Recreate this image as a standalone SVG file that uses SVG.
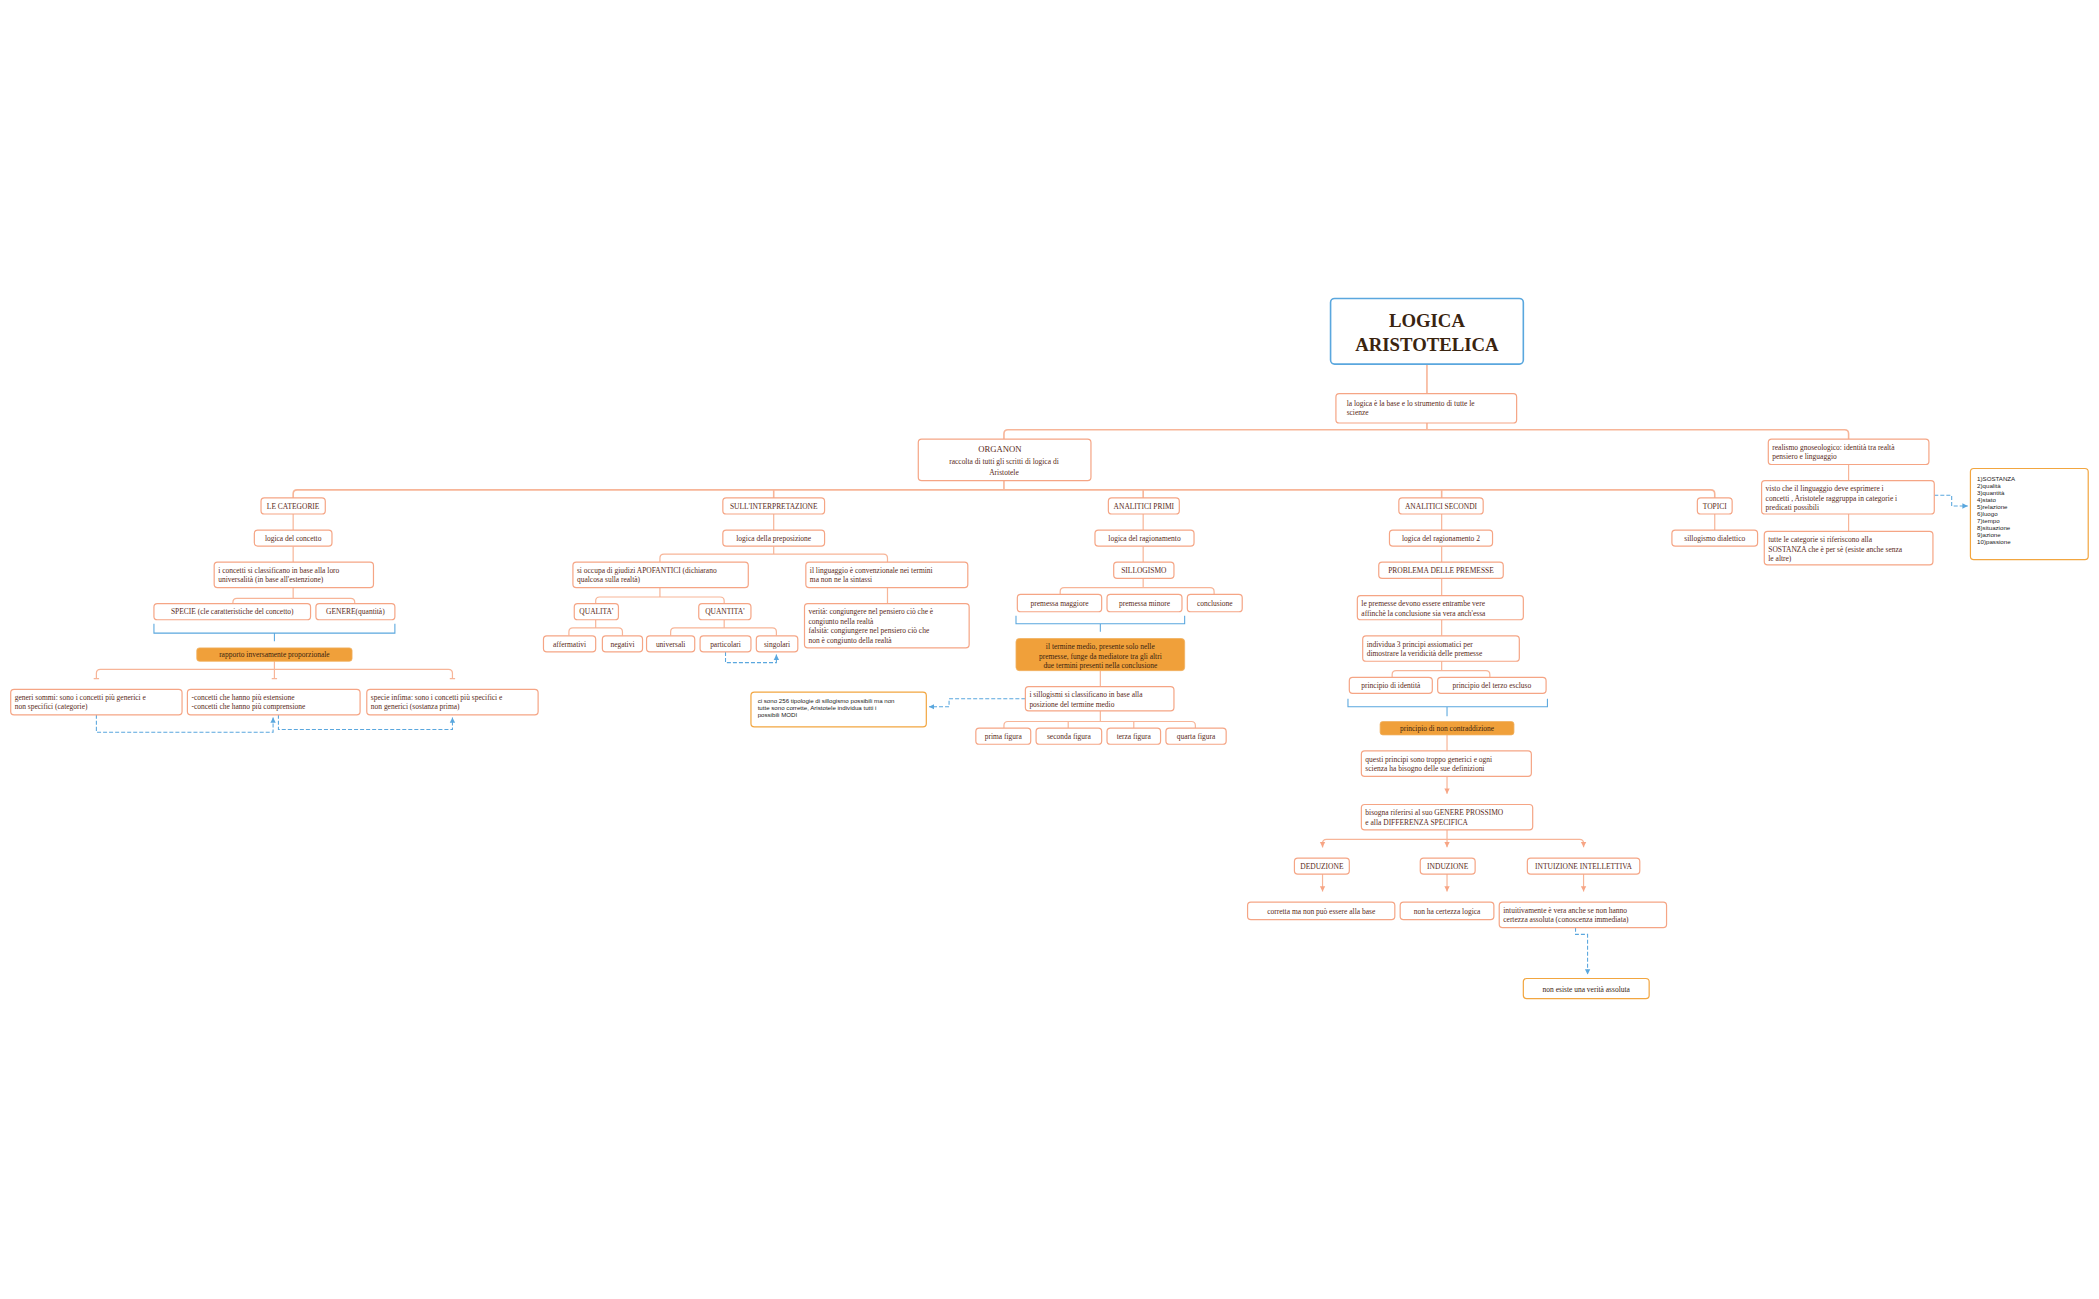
<svg xmlns="http://www.w3.org/2000/svg" width="2099" height="1299" viewBox="0 0 2099 1299">
<defs>
<style>
.n{fill:#fff;stroke:#f5a585;stroke-width:0.9}
.o{fill:#f0a03a;stroke:#f0b060;stroke-width:0.6}
.y{fill:#fff;stroke:#f2a640;stroke-width:0.9}
.t{fill:#fff;stroke:#5aa7de;stroke-width:1.2}
text{font-family:"Liberation Serif","DejaVu Serif",serif;font-size:5.6px;fill:#5a2a18}
.c{text-anchor:middle}
.s{font-family:"Liberation Sans",Arial,sans-serif;font-size:4.6px;fill:#222}
.k{fill:#3a2410}
.ln{fill:none;stroke:#f7b598;stroke-width:0.9}
.bl{fill:none;stroke:#5aa7de;stroke-width:0.8}
.ds{fill:none;stroke:#5aa7de;stroke-width:0.8;stroke-dasharray:3 1.5}
</style>
<marker id="ab" markerWidth="5" markerHeight="5" refX="4" refY="2.5" orient="auto" markerUnits="userSpaceOnUse"><path d="M0,0.5 L4,2.5 L0,4.5 Z" fill="#5aa7de"/></marker>
<marker id="ao" markerWidth="5" markerHeight="5" refX="4" refY="2.5" orient="auto" markerUnits="userSpaceOnUse"><path d="M0,0.5 L4,2.5 L0,4.5 Z" fill="#f7a585"/></marker>
</defs>
<rect width="2099" height="1299" fill="#fff"/>
<g transform="scale(1.3386)">
<g id="connectors">
<path class="ln" d="M1066,272V321M750,328V324Q750,321 753,321H1378Q1381,321 1381,324V328" style="stroke-width:1.2"/>
<path class="ln" d="M1381,347V359M1381,384V397"/>
<path class="ds" d="M1445,370H1458V378H1470" marker-end="url(#ab)"/>
<path class="ln" d="M750,359V366M219,372V369Q219,366 222,366H1278Q1281,366 1281,369V372M578,366V372M854,366V372M1077,366V372" style="stroke-width:1.2"/>
<!-- left -->
<path class="ln" d="M219,384V396M219,408V420M219,439V447M174,451V450Q174,447 177,447H262Q265,447 265,450V451"/>
<path class="bl" d="M115,466V473H295V466M205,473V479"/>
<path class="ln" d="M205,494V507M72,507V503Q72,500 75,500H335Q338,500 338,503V507"/>
<path class="ln" d="M70,507H74M203,507H207M336,507H340"/>
<path class="ds" d="M72,534V547H204V536" marker-end="url(#ab)"/>
<path class="ds" d="M208,534V545H338V536" marker-end="url(#ab)"/>
<!-- middle -->
<path class="ln" d="M578,384V396M578,408V414M493,420V417Q493,414 496,414H660Q663,414 663,417V420M663,439V451"/>
<path class="ln" d="M493,439V446M445,451V449Q445,446 448,446H538Q541,446 541,449V451"/>
<path class="ln" d="M445,463V469M425,475V472Q425,469 428,469H462Q465,469 465,472V475"/>
<path class="ln" d="M541,463V469M501,475V472Q501,469 504,469H577Q580,469 580,472V475"/>
<path class="ds" d="M542,487V495H580V489" marker-end="url(#ab)"/>
<!-- analitici primi -->
<path class="ln" d="M854,384V396M854,408V420M854,432V439M792,444V442Q792,439 795,439H904Q907,439 907,442V444"/>
<path class="bl" d="M759,460V466H885V460M822,466V472"/>
<path class="ln" d="M822,501V513M822,531V539M750,544V542Q750,539 753,539H890Q893,539 893,542V544M798,539V544M847,539V544"/>
<path class="ds" d="M766,522H709V528H694" marker-end="url(#ab)"/>
<!-- analitici secondi -->
<path class="ln" d="M1077,384V396M1077,408V420M1077,432V445M1077,463V475M1077,494V501M1040,506V504Q1040,501 1043,501H1110Q1113,501 1113,504V506"/>
<path class="bl" d="M1007,522V528H1156V522M1081,528V535"/>
<path class="ln" d="M1081,549V561M1081,580V593" marker-end="url(#ao)"/>
<path class="ln" d="M1081,620V633" marker-end="url(#ao)"/>
<path class="ln" d="M988,633V630Q988,627 991,627H1180Q1183,627 1183,630V633" marker-end="url(#ao)"/>
<path class="ln" d="M988,630V633" marker-end="url(#ao)"/>
<path class="ln" d="M988,653V666" marker-end="url(#ao)"/>
<path class="ln" d="M1081,653V666" marker-end="url(#ao)"/>
<path class="ln" d="M1183,653V666" marker-end="url(#ao)"/>
<path class="ds" d="M1177,693V698H1186V728" marker-end="url(#ab)"/>
<path class="ln" d="M1281,384V396"/>
</g>
<g id="title"><rect class="t" x="994" y="223" width="144" height="49" rx="3"/><text class="c k" x="1066" y="244" style="font-size:14px;font-weight:bold">LOGICA</text><text class="c k" x="1066" y="262" style="font-size:14px;font-weight:bold">ARISTOTELICA</text></g>
<g id="base"><rect class="n" x="998" y="294" width="135" height="22" rx="2.5"/><text x="1006" y="303">la logica è la base e lo strumento di tutte le</text><text x="1006" y="310">scienze</text></g>
<g id="organon"><rect class="n" x="686" y="328" width="129" height="31" rx="2.5"/><text class="c" x="747" y="338" style="font-size:6.5px">ORGANON</text><text class="c" x="750" y="347">raccolta di tutti gli scritti di logica di</text><text class="c" x="750" y="355">Aristotele</text></g>
<g id="realismo"><rect class="n" x="1321" y="328" width="120" height="19" rx="2.5"/><text x="1324" y="336">realismo gnoseologico: identità tra realtà</text><text x="1324" y="343">pensiero e linguaggio</text></g>
<g id="visto"><rect class="n" x="1316" y="359" width="129" height="25" rx="2.5"/><text x="1319" y="367">visto che il linguaggio deve esprimere i</text><text x="1319" y="374">concetti , Aristotele raggruppa in categorie i</text><text x="1319" y="381">predicati possibili</text></g>
<g id="tutte"><rect class="n" x="1318" y="397" width="126" height="25" rx="2.5"/><text x="1321" y="405">tutte le categorie si riferiscono alla</text><text x="1321" y="412">SOSTANZA che è per sè (esiste anche senza</text><text x="1321" y="419">le altre)</text></g>
<g id="lista"><rect class="y" x="1472" y="350" width="88" height="68" rx="2.5"/>
<text class="s" x="1477" y="359">1)SOSTANZA</text><text class="s" x="1477" y="364.3">2)qualità</text><text class="s" x="1477" y="369.6">3)quantità</text><text class="s" x="1477" y="374.9">4)stato</text><text class="s" x="1477" y="380.2">5)relazione</text><text class="s" x="1477" y="385.5">6)luogo</text><text class="s" x="1477" y="390.8">7)tempo</text><text class="s" x="1477" y="396.1">8)situazione</text><text class="s" x="1477" y="401.4">9)azione</text><text class="s" x="1477" y="406.7">10)passione</text></g>
<g id="categorie"><rect class="n" x="195" y="372" width="48" height="12" rx="2.5"/><text class="c" x="219" y="380">LE CATEGORIE</text></g>
<g id="concetto"><rect class="n" x="190" y="396" width="58" height="12" rx="2.5"/><text class="c" x="219" y="404">logica del concetto</text></g>
<g id="classificano"><rect class="n" x="160" y="420" width="119" height="19" rx="2.5"/><text x="163" y="428">i concetti si classificano in base alla loro</text><text x="163" y="435">universalità (in base all'estenzione)</text></g>
<g id="specie"><rect class="n" x="115" y="451" width="117" height="12" rx="2.5"/><text class="c" x="173.5" y="459">SPECIE (cle caratteristiche del concetto)</text></g>
<g id="genere"><rect class="n" x="236" y="451" width="59" height="12" rx="2.5"/><text class="c" x="265.5" y="459">GENERE(quantità)</text></g>
<g id="rapporto"><rect class="o" x="147" y="484" width="116" height="10" rx="2"/><text class="c k" x="205" y="491">rapporto inversamente proporzionale</text></g>
<g id="generi"><rect class="n" x="8" y="515" width="128" height="19" rx="2.5"/><text x="11" y="523">generi sommi: sono i concetti più generici e</text><text x="11" y="530">non specifici (categorie)</text></g>
<g id="estensione"><rect class="n" x="140" y="515" width="129" height="19" rx="2.5"/><text x="143" y="523">-concetti che hanno più estensione</text><text x="143" y="530">-concetti che hanno più comprensione</text></g>
<g id="infima"><rect class="n" x="274" y="515" width="128" height="19" rx="2.5"/><text x="277" y="523">specie infima: sono i concetti più specifici e</text><text x="277" y="530">non generici (sostanza prima)</text></g>
<g id="interpretazione"><rect class="n" x="540" y="372" width="76" height="12" rx="2.5"/><text class="c" x="578" y="380">SULL'INTERPRETAZIONE</text></g>
<g id="preposizione"><rect class="n" x="540" y="396" width="76" height="12" rx="2.5"/><text class="c" x="578" y="404">logica della preposizione</text></g>
<g id="apofantici"><rect class="n" x="428" y="420" width="131" height="19" rx="2.5"/><text x="431" y="428">si occupa di giudizi APOFANTICI (dichiarano</text><text x="431" y="435">qualcosa sulla realtà)</text></g>
<g id="convenzionale"><rect class="n" x="602" y="420" width="121" height="19" rx="2.5"/><text x="605" y="428">il linguaggio è convenzionale nei termini</text><text x="605" y="435">ma non ne la sintassi</text></g>
<g id="verita"><rect class="n" x="601" y="451" width="123" height="33" rx="2.5"/><text x="604" y="459">verità: congiungere nel pensiero ciò che è</text><text x="604" y="466">congiunto nella realtà</text><text x="604" y="473">falsità: congiungere nel pensiero ciò che</text><text x="604" y="480">non è congiunto della realtà</text></g>
<g id="qualita"><rect class="n" x="429" y="451" width="33" height="12" rx="2.5"/><text class="c" x="445.5" y="459">QUALITA'</text></g>
<g id="quantita"><rect class="n" x="522" y="451" width="39" height="12" rx="2.5"/><text class="c" x="541.5" y="459">QUANTITA'</text></g>
<g id="affermativi"><rect class="n" x="406" y="475" width="39" height="12" rx="2.5"/><text class="c" x="425.5" y="483">affermativi</text></g>
<g id="negativi"><rect class="n" x="450" y="475" width="30" height="12" rx="2.5"/><text class="c" x="465" y="483">negativi</text></g>
<g id="universali"><rect class="n" x="483" y="475" width="36" height="12" rx="2.5"/><text class="c" x="501" y="483">universali</text></g>
<g id="particolari"><rect class="n" x="523" y="475" width="38" height="12" rx="2.5"/><text class="c" x="542" y="483">particolari</text></g>
<g id="singolari"><rect class="n" x="565" y="475" width="31" height="12" rx="2.5"/><text class="c" x="580.5" y="483">singolari</text></g>
<g id="primi"><rect class="n" x="828" y="372" width="53" height="12" rx="2.5"/><text class="c" x="854.5" y="380">ANALITICI PRIMI</text></g>
<g id="ragionamento"><rect class="n" x="818" y="396" width="74" height="12" rx="2.5"/><text class="c" x="855" y="404">logica del ragionamento</text></g>
<g id="sillogismo"><rect class="n" x="832" y="420" width="45" height="12" rx="2.5"/><text class="c" x="854.5" y="428">SILLOGISMO</text></g>
<g id="maggiore"><rect class="n" x="760" y="444" width="63" height="13" rx="2.5"/><text class="c" x="791.5" y="453">premessa maggiore</text></g>
<g id="minore"><rect class="n" x="827" y="444" width="56" height="13" rx="2.5"/><text class="c" x="855" y="453">premessa minore</text></g>
<g id="conclusione"><rect class="n" x="887" y="444" width="41" height="13" rx="2.5"/><text class="c" x="907.5" y="453">conclusione</text></g>
<g id="medio"><rect class="o" x="759" y="477" width="126" height="24" rx="2.5"/><text class="c k" x="822" y="485">il termine medio, presente solo nelle</text><text class="c k" x="822" y="492">premesse, funge da mediatore tra gli altri</text><text class="c k" x="822" y="499">due termini presenti nella conclusione</text></g>
<g id="sillogismi"><rect class="n" x="766" y="513" width="111" height="18" rx="2.5"/><text x="769" y="521">i sillogismi si classificano in base alla</text><text x="769" y="528">posizione del termine medio</text></g>
<g id="modi"><rect class="y" x="561" y="517" width="131" height="26" rx="2.5"/><text class="s" x="566" y="525">ci sono 256 tipologie di sillogismo possibili ma non</text><text class="s" x="566" y="530.5">tutte sono corrette, Aristotele individua tutti i</text><text class="s" x="566" y="536">possibili MODI</text></g>
<g id="prima"><rect class="n" x="729" y="544" width="41" height="12" rx="2.5"/><text class="c" x="749.5" y="552">prima figura</text></g>
<g id="seconda"><rect class="n" x="774" y="544" width="49" height="12" rx="2.5"/><text class="c" x="798.5" y="552">seconda figura</text></g>
<g id="terza"><rect class="n" x="827" y="544" width="40" height="12" rx="2.5"/><text class="c" x="847" y="552">terza figura</text></g>
<g id="quarta"><rect class="n" x="871" y="544" width="45" height="12" rx="2.5"/><text class="c" x="893.5" y="552">quarta figura</text></g>
<g id="secondi"><rect class="n" x="1045" y="372" width="63" height="12" rx="2.5"/><text class="c" x="1076.5" y="380">ANALITICI SECONDI</text></g>
<g id="ragionamento2"><rect class="n" x="1038" y="396" width="77" height="12" rx="2.5"/><text class="c" x="1076.5" y="404">logica del ragionamento 2</text></g>
<g id="problema"><rect class="n" x="1030" y="420" width="93" height="12" rx="2.5"/><text class="c" x="1076.5" y="428">PROBLEMA DELLE PREMESSE</text></g>
<g id="vere"><rect class="n" x="1014" y="445" width="124" height="18" rx="2.5"/><text x="1017" y="453">le premesse devono essere entrambe vere</text><text x="1017" y="460">affinchè la conclusione sia vera anch'essa</text></g>
<g id="individua"><rect class="n" x="1018" y="475" width="117" height="19" rx="2.5"/><text x="1021" y="483">individua 3 principi assiomatici per</text><text x="1021" y="490">dimostrare la veridicità delle premesse</text></g>
<g id="identita"><rect class="n" x="1008" y="506" width="62" height="12" rx="2.5"/><text class="c" x="1039" y="514">principio di identità</text></g>
<g id="terzo"><rect class="n" x="1074" y="506" width="81" height="12" rx="2.5"/><text class="c" x="1114.5" y="514">principio del terzo escluso</text></g>
<g id="noncontr"><rect class="o" x="1031" y="539" width="100" height="10" rx="2"/><text class="c k" x="1081" y="546">principio di non contraddizione</text></g>
<g id="generici"><rect class="n" x="1017" y="561" width="127" height="19" rx="2.5"/><text x="1020" y="569">questi principi sono troppo generici e ogni</text><text x="1020" y="576">scienza ha bisogno delle sue definizioni</text></g>
<g id="prossimo"><rect class="n" x="1017" y="601" width="128" height="19" rx="2.5"/><text x="1020" y="609">bisogna riferirsi al suo GENERE PROSSIMO</text><text x="1020" y="616">e alla DIFFERENZA SPECIFICA</text></g>
<g id="deduzione"><rect class="n" x="967" y="641" width="41" height="12" rx="2.5"/><text class="c" x="987.5" y="649">DEDUZIONE</text></g>
<g id="induzione"><rect class="n" x="1061" y="641" width="41" height="12" rx="2.5"/><text class="c" x="1081.5" y="649">INDUZIONE</text></g>
<g id="intuizione"><rect class="n" x="1141" y="641" width="84" height="12" rx="2.5"/><text class="c" x="1183" y="649">INTUIZIONE INTELLETTIVA</text></g>
<g id="corretta"><rect class="n" x="932" y="674" width="110" height="13" rx="2.5"/><text class="c" x="987" y="683">corretta ma non può essere alla base</text></g>
<g id="certezza"><rect class="n" x="1046" y="674" width="70" height="13" rx="2.5"/><text class="c" x="1081" y="683">non ha certezza logica</text></g>
<g id="intuitivamente"><rect class="n" x="1120" y="674" width="125" height="19" rx="2.5"/><text x="1123" y="682">intuitivamente è vera anche se non hanno</text><text x="1123" y="689">certezza assoluta (conoscenza immediata)</text></g>
<g id="assoluta"><rect class="y" x="1138" y="731" width="94" height="15" rx="2.5"/><text class="c k" x="1185" y="741">non esiste una verità assoluta</text></g>
<g id="topici"><rect class="n" x="1268" y="372" width="26" height="12" rx="2.5"/><text class="c" x="1281" y="380">TOPICI</text></g>
<g id="dialettico"><rect class="n" x="1249" y="396" width="64" height="12" rx="2.5"/><text class="c" x="1281" y="404">sillogismo dialettico</text></g>
</g>
</svg>
